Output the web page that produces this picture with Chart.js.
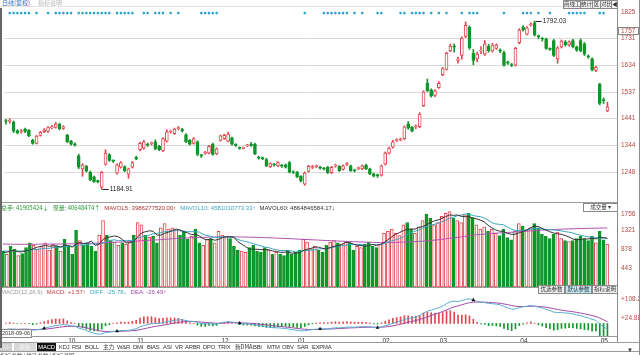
<!DOCTYPE html>
<html><head><meta charset="utf-8">
<script src="https://cdn.jsdelivr.net/npm/chart.js@4.4.0/dist/chart.umd.min.js"></script>
<style>
html,body{margin:0;padding:0;background:#fff;}
#root{position:relative;width:640px;height:355px;overflow:hidden;font-family:"Liberation Sans","Noto Sans CJK SC",sans-serif;}
canvas{position:absolute;left:0;}
.t{position:absolute;font-size:6.5px;line-height:8px;white-space:nowrap;}
.t span{margin-right:4px;}
.btn{position:absolute;font-size:5.5px;line-height:7px;height:7px;border:1px solid #8a8a8a;background:#f2f2f2;color:#333;text-align:center;font-family:"Noto Sans CJK SC",sans-serif;white-space:nowrap;overflow:hidden;}
.hl{position:absolute;height:1px;background:#c8c8c8;}
.vl{position:absolute;width:1px;background:#8c8c8c;}
.tab{position:absolute;top:343px;height:8px;font-size:5.8px;line-height:8px;color:#333;white-space:nowrap;letter-spacing:-0.2px;}
</style></head><body><div id="root">
<canvas id="cPrice" width="640" height="194" style="top:8px"></canvas>
<canvas id="cVol" width="640" height="76" style="top:211px"></canvas>
<canvas id="cMacd" width="640" height="51" style="top:294px"></canvas>

<div class="t" style="left:2px;top:-1px;color:#1e6fc8;font-family:'Noto Sans CJK SC';font-size:6px">日线(复权)</div>
<div class="t" style="left:38px;top:-1px;color:#b8b8b8;font-family:'Noto Sans CJK SC';font-size:6px">指标说明</div>
<div class="hl" style="left:0;top:6px;width:617px;background:#e4e4e4"></div>

<div class="btn" style="left:563px;top:0px;width:16px">画线工具</div>
<div class="btn" style="left:580px;top:0px;width:11px">统计</div>
<div class="btn" style="left:592px;top:0px;width:7px">区</div>
<div class="btn" style="left:600px;top:0px;width:10px">对比</div>
<div class="btn" style="left:611px;top:0px;width:5px">◀</div>

<div class="hl" style="left:0;top:202px;width:617px;background:#9a9a9a"></div>
<div class="t" style="left:1px;top:204px;font-size:6px">
<span style="color:#2a9a3a;font-family:'Noto Sans CJK SC'">总手: 41905424↓</span><span style="color:#2a9a3a;font-family:'Noto Sans CJK SC'">现量: 40648474↑</span><span style="color:#b03434">MAVOL5: 3986277520.00↑</span><span style="color:#3aa6c0">MAVOL10: 4581010773.33↑</span><span style="color:#333">MAVOL60: 4864846584.17↓</span>
</div>
<div class="btn" style="left:583px;top:203px;width:33px;background:#fff">成交量 ▾</div>

<div class="hl" style="left:0;top:287px;width:617px;background:#9a9a9a"></div>
<div class="t" style="left:1px;top:288px;font-size:6px">
<span style="color:#999">MACD(12,26,9)</span><span style="color:#c03a3a">MACD: +1.57↑</span><span style="color:#3aa6c0">DIFF: -25.78↓</span><span style="color:#a044a8">DEA: -26.49↑</span>
</div>
<div class="btn" style="left:538px;top:285px;width:25px">优选参数</div>
<div class="btn" style="left:565px;top:285px;width:25px;background:#bfe9f2">默认参数</div>
<div class="btn" style="left:592px;top:285px;width:24px">指标说明</div>

<div class="hl" style="left:0;top:336px;width:617px;background:#9a9a9a"></div>
<div class="btn" style="left:0px;top:329px;width:30px;background:#fff;font-family:'Liberation Sans'">2018-09-06</div>

<div class="hl" style="left:0;top:342px;width:640px;background:#9a9a9a"></div>
<div class="tab" style="left:0;width:12px;background:#c8c8c8;color:#eee;text-align:center;font-family:'Noto Sans CJK SC'">指标</div>
<div class="tab" style="left:14px;width:22px;background:#d8d8d8;color:#f4f4f4;text-align:center;font-family:'Noto Sans CJK SC'">模板</div>
<div class="tab" style="left:37px;width:19px;background:#111;color:#fff;text-align:center">MACD</div>
<div class="tab" style="left:59px">KDJ</div>
<div class="tab" style="left:72px">RSI</div>
<div class="tab" style="left:85px">BOLL</div>
<div class="tab" style="left:103px;font-family:'Noto Sans CJK SC'">主力</div>
<div class="tab" style="left:117px">W&amp;R</div>
<div class="tab" style="left:133px">DMI</div>
<div class="tab" style="left:147px">BIAS</div>
<div class="tab" style="left:163px">ASI</div>
<div class="tab" style="left:175px">VR</div>
<div class="tab" style="left:185px">ARBR</div>
<div class="tab" style="left:203px">DPO</div>
<div class="tab" style="left:218px">TRIX</div>
<div class="tab" style="left:235px;font-family:'Noto Sans CJK SC'">新DMA</div>
<div class="tab" style="left:253px">BBI</div>
<div class="tab" style="left:267px">MTM</div>
<div class="tab" style="left:282px">OBV</div>
<div class="tab" style="left:297px">SAR</div>
<div class="tab" style="left:312px">EXPMA</div>
<div class="hl" style="left:0;top:351px;width:640px;background:#9a9a9a"></div>
<div class="tab" style="left:0;top:352px;font-family:'Noto Sans CJK SC';color:#555">指标参数 | 优选参数 | 指标说明</div>
<div class="tab" style="left:627px;top:346px;font-size:6px">▼</div>

<div class="vl" style="left:0;top:8px;height:340px;width:2px;background:#666"></div>
<div class="vl" style="left:617px;top:0;height:342px"></div>
<div class="vl" style="left:639px;top:0;height:355px"></div>
</div>
<script>
// ---------- DATA ----------
const open = [1432,1431,1428,1397,1394,1403,1398,1363,1351,1380,
1393,1394,1407,1409,1420,1405,1381,1359,1348,1306,
1259,1268,1247,1230,1215,1193,1276,1311,1289,1244,
1265,1267,1240,1265,1299,1328,1334,1347,1350,1357,
1340,1324,1359,1392,1386,1404,1399,1382,1362,1351,
1357,1308,1315,1316,1348,1313,1362,1368,1359,1371,
1346,1335,1333,1342,1346,1348,1300,1298,1293,1267,
1275,1270,1271,1274,1282,1248,1247,1232,1204,1250,
1264,1267,1264,1260,1265,1245,1269,1268,1257,1275,
1270,1254,1260,1259,1272,1259,1241,1237,1236,1276,
1316,1337,1361,1364,1368,1422,1409,1410,1411,1487,
1568,1544,1524,1552,1599,1618,1685,1701,1650,1668,
1737,1771,1676,1656,1684,1673,1702,1685,1694,1686,
1679,1642,1634,1633,1714,1771,1745,1778,1786,1738,
1729,1727,1692,1722,1656,1699,1717,1706,1722,1699,
1722,1710,1665,1656,1614,1564,1508,1468];
const close = [1430,1433,1395,1389,1396,1394,1378,1351,1377,1391,
1400,1408,1410,1421,1403,1411,1357,1348,1346,1265,
1274,1251,1219,1213,1213,1247,1316,1290,1287,1274,
1282,1253,1259,1282,1296,1351,1357,1345,1352,1331,
1328,1368,1393,1394,1403,1406,1397,1357,1348,1368,
1311,1306,1317,1340,1311,1331,1378,1380,1385,1348,
1344,1333,1335,1344,1344,1313,1298,1296,1270,1278,
1273,1282,1269,1265,1247,1246,1230,1216,1245,1268,
1266,1269,1262,1259,1245,1265,1271,1253,1270,1277,
1253,1252,1262,1270,1259,1241,1233,1235,1270,1316,
1334,1357,1363,1366,1411,1406,1395,1412,1457,1537,
1541,1521,1541,1568,1621,1676,1702,1698,1656,1731,
1777,1696,1650,1673,1686,1710,1685,1706,1706,1684,
1633,1640,1632,1694,1760,1760,1768,1780,1742,1736,
1727,1694,1690,1668,1696,1720,1706,1717,1699,1687,
1685,1673,1663,1616,1625,1495,1505,1483];
const high = [1438,1440,1432,1400,1401,1406,1401,1366,1380,1394,
1404,1412,1416,1427,1424,1415,1384,1362,1353,1312,
1278,1272,1251,1233,1219,1250,1328,1314,1292,1278,
1285,1270,1262,1286,1305,1356,1362,1352,1356,1364,
1344,1372,1400,1399,1406,1412,1405,1386,1365,1372,
1360,1312,1322,1344,1352,1335,1381,1384,1392,1374,
1350,1338,1338,1348,1355,1352,1305,1302,1297,1281,
1279,1285,1275,1277,1286,1252,1250,1235,1248,1272,
1272,1273,1268,1264,1268,1268,1276,1271,1274,1282,
1273,1258,1266,1273,1276,1262,1244,1240,1273,1320,
1338,1362,1368,1370,1414,1430,1412,1418,1462,1541,
1583,1548,1545,1574,1625,1680,1710,1710,1662,1735,
1789,1775,1690,1680,1700,1722,1708,1712,1710,1692,
1684,1648,1640,1698,1765,1776,1772,1786,1792.03,1742,
1733,1731,1696,1726,1700,1724,1722,1721,1726,1702,
1728,1715,1670,1660,1629,1568,1515,1500];
const low = [1420,1424,1390,1385,1388,1390,1375,1348,1349,1377,
1390,1391,1403,1406,1400,1401,1354,1345,1341,1260,
1232,1248,1216,1210,1208,1184.91,1272,1286,1282,1240,
1262,1249,1225,1262,1292,1324,1330,1340,1345,1328,
1325,1321,1356,1388,1383,1400,1392,1354,1345,1348,
1307,1300,1311,1313,1308,1310,1359,1365,1356,1345,
1340,1330,1330,1339,1340,1310,1294,1292,1267,1264,
1269,1267,1264,1262,1244,1242,1227,1212,1200,1247,
1260,1263,1258,1255,1242,1242,1265,1250,1254,1271,
1250,1248,1256,1256,1256,1238,1230,1228,1233,1273,
1313,1334,1357,1360,1365,1402,1392,1404,1408,1484,
1538,1518,1520,1549,1595,1615,1682,1680,1640,1655,
1733,1690,1635,1645,1675,1668,1680,1680,1690,1678,
1630,1636,1628,1630,1710,1756,1742,1774,1738,1728,
1720,1690,1686,1664,1640,1695,1702,1702,1695,1683,
1681,1668,1658,1612,1610,1490,1495,1465];
const volume = [840,760,950,880,730,780,920,1030,970,880,950,1030,860,1000,950,840,
1110,950,760,1320,1080,970,1030,950,840,1210,1550,1210,1080,1050,970,1030,1000,1080,
1210,1500,1450,1210,1160,1190,1030,1380,1480,1350,1380,1320,1210,1300,1110,1190,1350,1030,970,1110,1130,1030,
1300,1210,1190,1130,950,860,840,810,920,970,840,810,920,860,760,810,760,730,860,760,
810,860,1110,1050,890,950,860,810,970,1050,1080,1030,1000,1050,1030,860,950,920,1000,1050,950,920,
1000,1250,1300,1350,1250,1200,1450,1500,1350,1250,1400,1550,1700,1600,1450,
1500,1650,1720,1756,1600,1550,1500,1680,1720,1620,1450,1350,1400,1300,1350,1250,1200,1350,1150,1100,1300,
1480,1420,1330,1380,1480,1380,1230,1180,1130,1230,1280,1130,1080,1060,1080,1130,1180,1130,1080,1180,1030,
1300,1100,1000];
const mavol5 = [810,810,840,850,820,820,850,860,900,930,950,970,950,960,960,930,
970,970,930,1000,1040,1010,1030,1070,970,1000,1110,1150,1170,1190,1170,1110,1030,1030,
1070,1170,1260,1290,1310,1300,1210,1210,1250,1280,1320,1350,1330,1290,1260,1220,1230,1190,1130,1100,1120,1090,
1110,1150,1170,1170,1160,1060,1000,940,890,880,880,870,870,870,840,830,810,810,820,790,
790,800,850,880,900,930,930,900,890,920,950,960,990,1040,1040,1000,970,970,950,970,990,970,
990,1040,1100,1170,1230,1270,1310,1350,1350,1350,1390,1410,1450,1500,1540,
1560,1600,1640,1680,1670,1680,1650,1640,1640,1610,1590,1560,1520,1440,1380,1330,1300,1300,1250,1230,1230,
1260,1290,1330,1380,1420,1410,1370,1330,1290,1260,1240,1230,1200,1170,1120,1100,1110,1120,1120,1140,1120,
1160,1150,1140];
const mavol10 = [840,835,840,845,840,840,845,860,870,880,890,900,900,920,930,930,
940,950,950,960,980,980,990,1010,1000,1000,1020,1060,1090,1100,1080,1080,1080,1080,
1090,1140,1170,1190,1210,1240,1250,1270,1290,1290,1300,1320,1310,1300,1290,1290,1290,1280,1230,1200,1180,1150,
1160,1160,1170,1160,1150,1110,1080,1060,1040,1010,980,960,930,920,890,870,850,850,840,840,
820,820,840,850,860,870,890,890,900,910,930,940,960,970,990,990,990,990,970,970,990,990,
990,1010,1050,1080,1100,1130,1170,1220,1270,1300,1330,1370,1410,1440,1460,
1490,1520,1560,1600,1630,1660,1680,1700,1700,1670,1650,1640,1610,1560,1500,1470,1460,1450,1400,1350,1320,
1320,1320,1330,1350,1360,1370,1350,1340,1340,1330,1320,1310,1290,1280,1260,1230,1210,1190,1170,1160,1150,
1140,1140,1130];
const mavol60 = [1000,1000,998,997,996,995,995,996,997,998,1000,1001,1001,1002,1003,1003,
1005,1006,1006,1010,1012,1014,1017,1019,1020,1024,1031,1036,1040,1044,1047,1050,1053,1057,
1062,1071,1080,1085,1090,1095,1098,1104,1112,1118,1124,1130,1135,1140,1144,1148,1154,1156,1158,1161,1164,1166,
1168,1170,1172,1172,1170,1168,1166,1164,1162,1160,1157,1154,1151,1148,1145,1141,1137,1133,1129,1125,
1120,1115,1111,1107,1102,1098,1093,1088,1084,1080,1076,1072,1068,1064,1060,1056,1053,1050,1047,1044,1041,1038,
1036,1036,1037,1039,1041,1043,1047,1051,1055,1058,1062,1068,1077,1085,1092,
1100,1110,1122,1136,1147,1157,1167,1180,1194,1207,1217,1225,1234,1241,1249,1255,1260,1267,1272,1277,1283,
1290,1296,1302,1308,1315,1321,1326,1330,1334,1339,1344,1348,1351,1354,1357,1360,1363,1365,1367,1370,1371,
1374,1375,1376];
const diff = [-25.8,-24,-25,-26,-25.5,-25,-26,-29,-28,-25,-21,-17,-13,-9,-7,-4,
-7,-10,-12,-20,-25,-31,-38,-43,-47,-46,
-40,-38,-35,-33.5,-31,-31,-30,-27,-23,
-15,-9,-5,-1,0,1,4,8,11,14,16,16,
13,10,9,4,0,-2,-1,-3,-3,
2,5,8,6,
4,1,-1,-2,-3,-6,-9,-11,-15,-17,-19,-19,-21,-22,-25,-27,-30,-33,-32,
-29,-27,-25,-24,-23,-23,-21,-19,-19,-18,-16,-16,-16,-15,-14,-14,-15,-17,-18,
-15,-10,-5,1,6,11,18,22,25,29,35,46,54,59,64,69,77,87,95,98,96,101,106,108.2,103,
97,93,92,88,87,85,82,75,69,63,64,70,
73,76,79,76,72,68,62,57,50,48,48,46,45,42,38,34,29,25,18,14,
-3,-15,-25];
const dea = [-26.5,-26.1,-25.9,-25.9,-25.8,-25.6,-25.7,-26.4,-26.7,-26.4,-25.3,-23.6,-21.5,-19,-16.6,-14.1,
-12.7,-12.2,-12.1,-13.7,-16,-19,-22.8,-26.8,-30.8,-33.8,
-35,-35.6,-35.5,-35.1,-34.3,-33.6,-32.9,-31.7,-30,
-27,-23.4,-19.7,-16,-12.8,-10,-7.2,-4.2,-1.1,1.9,4.7,6.9,
8.1,8.5,8.6,7.7,6.2,4.5,3.4,2.1,1.1,
1.3,2,3.2,3.8,
3.8,3.2,2.4,1.5,0.6,-0.7,-2.4,-4.1,-6.3,-8.4,-10.5,-12.2,-14,-15.6,-17.5,-19.4,-21.5,-23.8,-25.4,
-26.1,-26.3,-26,-25.6,-25.1,-24.7,-24,-23,-22.2,-21.4,-20.3,-19.5,-18.8,-18,-17.2,-16.6,-16.3,-16.4,-16.7,
-16.4,-15.1,-13.1,-10.3,-7,-3.4,0.9,5.1,9.1,13.1,17.5,23.2,29.4,35.3,41,46.6,52.7,59.6,66.7,73,77.6,82.3,87.2,91.4,93.7,
94.4,94.1,93.7,92.6,91.5,90.2,88.6,85.9,82.5,78.6,75.7,74.6,
74.3,74.6,75.5,75.6,74.9,73.5,71.2,68.4,64.7,61.4,58.7,56.2,54,51.6,48.9,45.9,42.5,39,34.8,30.6,
23.9,16.1,7.9];
const macd = [1.4,4.2,1.8,-0.2,0.6,1.2,-0.6,-5.2,-2.6,2.8,8.6,13.2,17,20,19.2,20.2,
11.4,4.4,0.2,-12.6,-18,-24,-30.4,-32.4,-32.4,-24.4,
-10,-4.8,1,3.2,6.6,5.2,5.8,9.4,14,
24,28.8,29.4,30,25.6,22,22.4,24.4,24.2,24.2,22.6,18.2,
9.8,3,0.8,-7.4,-12.4,-13,-8.8,-10.2,-8.2,
1.4,6,9.6,4.4,
0.4,-4.4,-6.8,-7,-7.2,-10.6,-13.2,-13.8,-17.4,-17.2,-17,-13.6,-14,-12.8,-15,-15.2,-17,-18.4,-13.2,
-5.8,-1.4,2,3.2,4.2,3.4,6,8,6.4,6.8,8.6,7,5.6,6,6.4,5.2,2.6,-1.2,-2.6,
2.8,10.2,16.2,22.6,26,28.8,34.2,33.8,31.8,31.8,35,45.6,49.2,47.4,46,44.8,48.6,54.8,56.6,50,36.8,37.4,37.6,33.6,18.6,
5.2,-2.2,-3.4,-9.2,-9,-10.4,-13.2,-21.8,-27,-31.2,-23.4,-9.2,
-2.6,2.8,7,0.8,-5.8,-11,-18.4,-22.8,-29.4,-26.8,-21.4,-20.4,-18,-19.2,-21.8,-23.8,-27,-28,-33.6,-33.2,
-53.8,-55,-55];
const infoDots = [1,2,3,4,5,6,8,11,13,14,15,16,17,19,20,21,22,23,24,25,26,27,29,30,31,32,33,36,37,39,40,41,43,45,51,52,53,54,55,78,83,84,85,86,87,88,89,91,93,97,98,103,104,106,107,108,109,111,113,115,119,121,122,123,130,135,136,137,139,142,147,148,149,150,151,155,156];
const signalIdx = [10,29,61,82,97,122];
const monthTickIdx = [16,34,56,76,98,113,134,155];
const monthTickText = ['10','11','12','01','02','03','04','05'];
const priceTicks = [1825,1731,1634,1537,1441,1344,1248];
const priceMark = 1757;
const volTicks = [1756,1321,878,443];
const macdTicks = [108.2,24.88];
const SLOTS = 160;
const categories = Array.from({length:SLOTS},(_,i)=>String(i));

// ---------- STYLE ----------
const RED='#e2474f', GREEN='#10962a', FONT='"Liberation Sans", sans-serif';
const up = close.map((c,i)=>c>=open[i]);
const fill = up.map(u=>u?'#ffffff':GREEN);
const edge = up.map(u=>u?RED:GREEN);

function baseOpts(extra){
  return Object.assign({
    responsive:false, animation:false, events:[],
    plugins:{legend:{display:false},tooltip:{enabled:false}},
    layout:{padding:{left:1,right:0,top:0,bottom:0}},
  },extra);
}
function xScale(){return {display:false,offset:true,grid:{display:false}};}
function yScale(min,max){return {position:'right',min,max,afterFit(s){s.width=23;},ticks:{display:false},grid:{display:false},border:{display:false}};}
function gridAndLabels(ticks,gridTicks,color,fmt){
  return {
    id:'gl'+Math.random().toString(36).slice(2),
    beforeDatasetsDraw(chart){
      const {ctx,chartArea:a,scales:{y}}=chart;
      ctx.save();ctx.strokeStyle='#d9d9d9';ctx.lineWidth=1;
      gridTicks.forEach(v=>{const p=Math.round(y.getPixelForValue(v))+0.5;ctx.beginPath();ctx.moveTo(a.left,p);ctx.lineTo(a.right,p);ctx.stroke();});
      ctx.restore();
    },
    afterDraw(chart){
      const {ctx,chartArea:a,scales:{y}}=chart;
      ctx.save();ctx.font='6.5px '+FONT;ctx.fillStyle=color;ctx.textBaseline='middle';ctx.textAlign='left';
      ticks.forEach(v=>{let p=y.getPixelForValue(v);p=Math.max(3,p);ctx.fillText(fmt(v),a.right+4,p);});
      ctx.restore();
    }
  };
}

// ---------- PRICE ----------
const priceExtra = {
  id:'priceExtra',
  afterDraw(chart){
    const {ctx,chartArea:a,scales:{x,y}}=chart;
    ctx.save();
    const pm=Math.round(y.getPixelForValue(priceMark));
    ctx.strokeStyle='#888';ctx.fillStyle='#fff';ctx.fillRect(a.right+1,pm-4,21,8);ctx.strokeRect(a.right+1.5,pm-3.5,20,7);
    ctx.font='6.5px '+FONT;ctx.fillStyle='#c04848';ctx.textBaseline='middle';ctx.fillText(String(priceMark),a.right+4,pm);
    const hv=Math.max(...high), lv=Math.min(...low);
    const hi=high.indexOf(hv), li=low.indexOf(lv);
    ctx.strokeStyle='#222';ctx.fillStyle='#222';ctx.lineWidth=1;
    [[hi,hv],[li,lv]].forEach(([i,v])=>{
      const px=x.getPixelForValue(i), py=Math.round(y.getPixelForValue(v))+0.5;
      ctx.beginPath();ctx.moveTo(px+1,py);ctx.lineTo(px+7,py);ctx.stroke();
      ctx.fillText(v.toFixed(2),px+8,py);
    });
    ctx.restore();
  }
};
new Chart(document.getElementById('cPrice'),{
  type:'bar',
  data:{labels:categories,datasets:[
    {type:'line',data:categories.map((c,i)=>infoDots.includes(i)?1821:null),showLine:false,pointRadius:1.3,pointBackgroundColor:'#2aa2cf',pointBorderWidth:0,clip:false,order:-1},
    {data:open.map((o,i)=>[o,close[i]]),backgroundColor:fill,borderColor:edge,borderWidth:1,borderSkipped:false,barThickness:3,minBarLength:1,grouped:false,order:0},
    {data:low.map((l,i)=>[l,high[i]]),backgroundColor:edge,borderWidth:0,barThickness:1,grouped:false,order:1}
  ]},
  options:baseOpts({scales:{x:xScale(),y:yScale(1154,1825)}}),
  plugins:[gridAndLabels(priceTicks,priceTicks.slice(1),'#c04848',v=>String(v)),priceExtra]
});

// ---------- VOLUME ----------
new Chart(document.getElementById('cVol'),{
  type:'bar',
  data:{labels:categories,datasets:[
    {type:'line',data:mavol5,borderColor:'#333333',borderWidth:1,pointRadius:0,order:0},
    {type:'line',data:mavol10,borderColor:'#3aa6c0',borderWidth:1,pointRadius:0,order:0},
    {type:'line',data:mavol60,borderColor:'#b050b0',borderWidth:1,pointRadius:0,order:0},
    {data:volume,backgroundColor:fill,borderColor:edge,borderWidth:1,borderSkipped:false,barThickness:3,order:1}
  ]},
  options:baseOpts({scales:{x:xScale(),y:yScale(0,1772)}}),
  plugins:[gridAndLabels(volTicks,[],'#b04848',v=>String(v))]
});

// ---------- MACD ----------
const macdExtra = {
  id:'macdExtra',
  afterDraw(chart){
    const {ctx,chartArea:a,scales:{x}}=chart;
    ctx.save();ctx.font='6.5px '+FONT;ctx.fillStyle='#333';ctx.textBaseline='top';ctx.textAlign='left';
    monthTickIdx.forEach((i,k)=>{ctx.fillText(monthTickText[k],x.getPixelForValue(i)+1,a.bottom+2);});
    ctx.restore();
  }
};
new Chart(document.getElementById('cMacd'),{
  type:'bar',
  data:{labels:categories,datasets:[
    {type:'line',data:categories.map((c,i)=>signalIdx.includes(i)?diff[i]:null),showLine:false,pointStyle:'triangle',pointRadius:2.2,pointBackgroundColor:'#111',pointBorderColor:'#111',pointBorderWidth:0,clip:false,order:-1},
    {type:'line',data:diff,borderColor:'#5aaed0',borderWidth:1,pointRadius:0,order:0},
    {type:'line',data:dea,borderColor:'#a04aa8',borderWidth:1,pointRadius:0,order:0},
    {data:macd,backgroundColor:macd.map(v=>v>=0?RED:GREEN),barThickness:1,order:1}
  ]},
  options:baseOpts({layout:{padding:{left:1,right:0,top:0,bottom:9}},scales:{x:xScale(),y:yScale(-55,112)}}),
  plugins:[gridAndLabels(macdTicks,[],'#c04848',v=>'+'+v),macdExtra]
});
</script>
</body></html>
